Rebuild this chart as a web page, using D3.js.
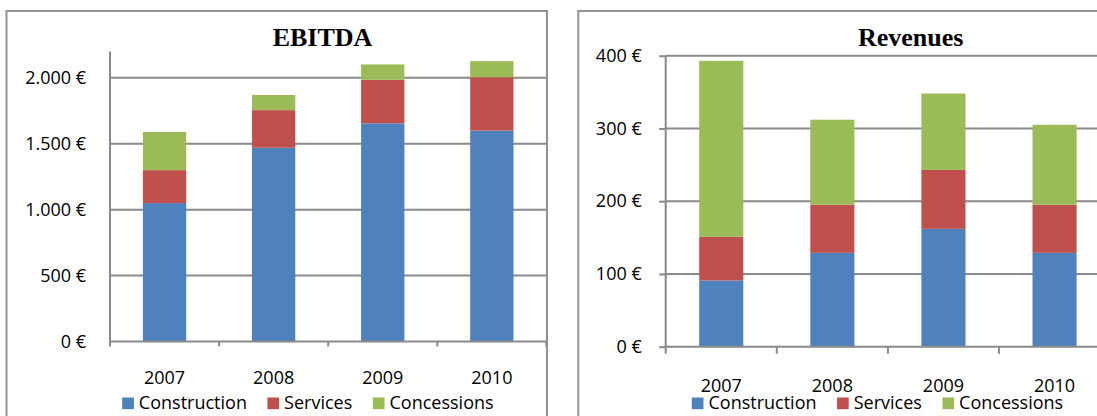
<!DOCTYPE html>
<html>
<head>
<meta charset="utf-8">
<script src="https://cdn.jsdelivr.net/npm/d3@7"></script>
<style>
  html, body { margin: 0; padding: 0; background: #fff; }
  svg { display: block; }
  text { font-family: "Open Sans", sans-serif; fill: #000; }
  .title { font-family: "Liberation Serif", "Times New Roman", serif; font-weight: bold; font-size: 26px; }
</style>
</head>
<body>
<svg id="chart" width="1097" height="416"></svg>
<script>
const categories = ["2007", "2008", "2009", "2010"];
const seriesNames = ["Construction", "Services", "Concessions"];
const seriesColors = ["#4F81BD", "#C0504D", "#9BBB59"];

const ebitdaConstruction = [1050, 1470, 1655, 1600];
const ebitdaServices = [250, 285, 330, 405];
const ebitdaConcessions = [290, 115, 117, 122];
const ebitdaTicks = [0, 500, 1000, 1500, 2000];

const revConstruction = [91, 129, 162, 129];
const revServices = [60, 66, 81, 66];
const revConcessions = [242, 117, 105, 110];
const revTicks = [0, 100, 200, 300, 400];

const euroLocale = d3.formatLocale({ decimal: ",", thousands: ".", grouping: [3], currency: ["", " €"] });
const fmtEuro = v => euroLocale.format(",.0f")(v) + " €";

const svg = d3.select("#chart");
const gridColor = "#8a8a8a";

function drawChart(cfg) {
  const g = svg.append("g");
  // frame
  g.append("rect")
    .attr("x", cfg.frame.x).attr("y", cfg.frame.y)
    .attr("width", cfg.frame.w).attr("height", cfg.frame.h)
    .attr("fill", "none").attr("stroke", "#939393").attr("stroke-width", 2);

  const x = d3.scaleBand().domain(categories).range([cfg.plot.x0, cfg.plot.x1]).padding(0);
  const y = d3.scaleLinear().domain(cfg.domain).range([cfg.plot.yBase, cfg.plot.yTop]);

  // gridlines
  g.append("g").selectAll("line").data(cfg.ticks.filter(t => t > 0)).join("line")
    .attr("x1", cfg.plot.x0).attr("x2", cfg.plot.x1)
    .attr("y1", d => y(d)).attr("y2", d => y(d))
    .attr("stroke", gridColor).attr("stroke-width", 2);

  // stacked bars
  const data = categories.map((c, i) => {
    const o = { cat: c };
    cfg.series.forEach((s, k) => { o[seriesNames[k]] = s[i]; });
    return o;
  });
  const stacked = d3.stack().keys(seriesNames)(data);
  const bw = x.bandwidth() * 0.397;
  g.append("g").selectAll("g").data(stacked).join("g")
    .attr("fill", (d, k) => seriesColors[k])
    .selectAll("rect").data(d => d).join("rect")
    .attr("x", d => x(d.data.cat) + (x.bandwidth() - bw) / 2)
    .attr("width", bw)
    .attr("y", d => y(d[1]))
    .attr("height", d => y(d[0]) - y(d[1]));

  // y axis
  const yAxis = d3.axisLeft(y).tickValues(cfg.ticks).tickFormat(fmtEuro)
    .tickSize(cfg.yTickSize).tickPadding(cfg.yTickPad);
  const ya = g.append("g").attr("transform", `translate(${cfg.plot.x0},0)`).call(yAxis);
  ya.select(".domain").remove();
  ya.selectAll(".tick line").attr("stroke", gridColor).attr("stroke-width", 2);
  ya.selectAll(".tick text").attr("font-family", "Open Sans").attr("font-size", 18).attr("fill", "#000");
  g.append("line")
    .attr("x1", cfg.plot.x0).attr("x2", cfg.plot.x0)
    .attr("y1", cfg.axisTop).attr("y2", cfg.plot.yBase)
    .attr("stroke", gridColor).attr("stroke-width", 2);

  // x axis baseline & category ticks
  g.append("line")
    .attr("x1", cfg.plot.x0).attr("x2", cfg.plot.x1)
    .attr("y1", cfg.plot.yBase).attr("y2", cfg.plot.yBase)
    .attr("stroke", gridColor).attr("stroke-width", 2);
  const bounds = categories.map(c => x(c)).concat([cfg.plot.x1]);
  g.append("g").selectAll("line").data(bounds).join("line")
    .attr("x1", d => d).attr("x2", d => d)
    .attr("y1", cfg.plot.yBase).attr("y2", cfg.plot.yBase + cfg.xTickLen)
    .attr("stroke", gridColor).attr("stroke-width", 2);
  g.append("g").selectAll("text").data(categories).join("text")
    .attr("x", d => x(d) + x.bandwidth() / 2)
    .attr("y", cfg.catBaseline)
    .attr("text-anchor", "middle").attr("font-size", 18)
    .text(d => d);

  // title
  g.append("text").attr("class", "title")
    .attr("x", cfg.titleX).attr("y", 46).attr("text-anchor", "middle")
    .text(cfg.title);

  // legend
  const lg = g.append("g");
  const items = lg.selectAll("g").data(seriesNames).join("g");
  items.append("rect").attr("width", 11.7).attr("height", 11.7).attr("y", 397.5)
    .attr("fill", (d, k) => seriesColors[k]);
  items.append("text").attr("x", 16.7).attr("y", 409.3).attr("font-size", 18).text(d => d);
  let cx = 0;
  const offs = [];
  items.each(function(d, k) {
    offs.push(cx);
    const w = d3.select(this).select("text").node().getComputedTextLength();
    cx += 16.7 + w + 20.5;
  });
  const total = cx - 20.5;
  const start = cfg.legendCenter - total / 2;
  items.attr("transform", (d, k) => `translate(${start + offs[k]},0)`);
}

drawChart({
  title: "EBITDA",
  titleX: 322.5,
  frame: { x: 6.5, y: 11, w: 540.5, h: 420 },
  plot: { x0: 110, x1: 546.4, yBase: 341.5, yTop: 51.5 },
  axisTop: 51.5,
  domain: [0, 2200],
  ticks: ebitdaTicks,
  series: [ebitdaConstruction, ebitdaServices, ebitdaConcessions],
  yTickSize: 0, yTickPad: 24,
  xTickLen: 5,
  catBaseline: 384.3,
  legendCenter: 307.9
});

drawChart({
  title: "Revenues",
  titleX: 910.7,
  frame: { x: 578.3, y: 11, w: 560, h: 420 },
  plot: { x0: 665.7, x1: 1110.1, yBase: 346.7, yTop: 55.7 },
  axisTop: 55.7,
  domain: [0, 400],
  ticks: revTicks,
  series: [revConstruction, revServices, revConcessions],
  yTickSize: 6.5, yTickPad: 17.5,
  xTickLen: 7,
  catBaseline: 391.7,
  legendCenter: 877.5
});
</script>
</body>
</html>
